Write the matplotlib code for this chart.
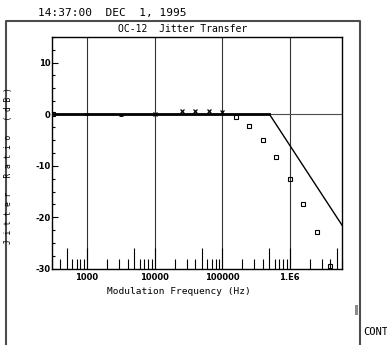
import matplotlib
matplotlib.use("Agg")
import matplotlib.pyplot as plt
from matplotlib.lines import Line2D
from matplotlib.patches import Rectangle
from matplotlib.ticker import LogLocator, FuncFormatter, FixedLocator, MultipleLocator

W, H = 387, 345

STAMP = "14:37:00  DEC  1, 1995"
TITLE = "OC-12  Jitter Transfer"
X_LABEL = "Modulation Frequency (Hz)"
Y_LABEL = "Jitter Ratio (dB)"

# measured points, grouped by the marker the analyzer drew
sq_freq = [316, 158489, 251189, 398107, 630957, 1000000, 1584893, 2511886, 3981072]
sq_db = [0.0, -0.5, -2.3, -5.0, -8.4, -12.6, -17.5, -22.9, -29.4]
dash_freq = [1000, 3162]
dash_db = [0.0, -0.2]
x_freq = [10000, 25119, 39811, 63096, 100000]
x_db = [0.0, 0.7, 0.7, 0.7, 0.5]

# OC-12 mask: flat up to 500 kHz, then -20 dB/dec
mask_freq = [300, 500000, 6000000]
mask_db = [0.0, 0.0, -21.6]

x_ticks = [1000, 10000, 100000, 1000000]
x_tick_labels = ["1000", "10000", "100000", "1.E6"]
y_ticks = [-30, -20, -10, 0, 10]
y_tick_labels = ["-30", "-20", "-10", "0", "10"]

MONO = "DejaVu Sans Mono"
NARROW = ["Liberation Sans Narrow", "DejaVu Sans"]


def fx(px):
    return px / W


def fy(py):
    return 1 - py / H


def draw_frame(fig):
    # instrument screen border, open at the bottom
    fig.add_artist(Line2D([fx(6), fx(6), fx(360), fx(360)],
                          [fy(345), fy(21), fy(21), fy(345)],
                          color="0.3", lw=1.5))
    fig.add_artist(Rectangle((fx(355), fy(315)), 3 / W, 10 / H, color="0.55", lw=0))
    fig.text(fx(363), fy(332), "CONT", family=MONO, fontsize=7.5, va="center", ha="left")


def main():
    fig = plt.figure(figsize=(W / 100, H / 100), dpi=100)
    ax = fig.add_axes([fx(51.7), fy(269), 290.6 / W, 232.3 / H])

    for t in x_ticks:
        ax.axvline(t, color="0.2", lw=0.8, zorder=1)
    ax.axhline(0, color="0.3", lw=0.8, zorder=1)

    ax.plot(mask_freq[:2], mask_db[:2], color="black", lw=2, zorder=2)
    ax.plot(mask_freq[1:], mask_db[1:], color="black", lw=1, zorder=2)

    ax.plot(sq_freq, sq_db, ls="none", marker="s", ms=2.8, mfc="none", mec="black", mew=0.8, zorder=3)
    ax.plot(dash_freq, dash_db, ls="none", marker="_", ms=3.5, mec="black", mew=2, zorder=3)
    ax.plot(x_freq, x_db, ls="none", marker="x", ms=3.5, mec="black", mew=0.9, zorder=3)

    ax.set_xscale("log")
    ax.set_xlim(300, 6e6)
    ax.set_ylim(-30, 15)

    labels = dict(zip(x_ticks, x_tick_labels))
    ax.xaxis.set_major_locator(LogLocator(base=10, subs=(1.0, 5.0)))
    ax.xaxis.set_major_formatter(FuncFormatter(lambda v, p: labels.get(int(round(v)), "")))
    ax.xaxis.set_minor_locator(LogLocator(base=10, subs=(2, 3, 4, 6, 7, 8, 9)))
    ax.tick_params(axis="x", which="major", direction="in", length=15, width=0.8, pad=3)
    ax.tick_params(axis="x", which="minor", direction="in", length=7, width=0.8)

    ax.yaxis.set_major_locator(FixedLocator(y_ticks))
    ax.set_yticklabels(y_tick_labels)
    ax.yaxis.set_minor_locator(MultipleLocator(2.5))
    ax.tick_params(axis="y", which="major", direction="in", length=4, width=0.8, pad=1)
    ax.tick_params(axis="y", which="minor", direction="in", length=2.5, width=0.8)

    for lab in ax.get_xticklabels() + ax.get_yticklabels():
        lab.set_family(NARROW)
        lab.set_fontsize(6)
        lab.set_fontweight("bold")

    for s in ax.spines.values():
        s.set_linewidth(1)

    fig.text(fx(38), fy(13), STAMP, family=MONO, fontsize=8, va="center", ha="left")
    fig.text(fx(183), fy(29), TITLE, family=MONO, fontsize=7, va="center", ha="center")
    fig.text(fx(178.5), fy(291), X_LABEL, family=MONO, fontsize=6.8, va="center", ha="center")
    fig.text(fx(9), fy(166), " ".join(Y_LABEL), family=MONO, fontsize=5.7,
             rotation=90, va="center", ha="center")

    draw_frame(fig)
    fig.savefig("out.png", dpi=100)


if __name__ == "__main__":
    main()
